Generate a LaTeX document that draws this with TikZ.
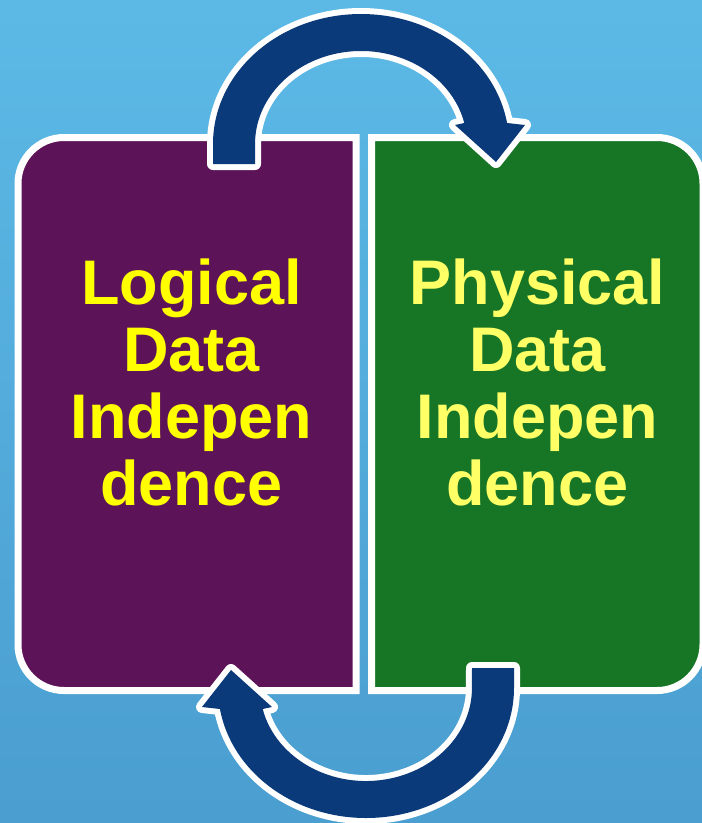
\documentclass[tikz,border=0pt]{standalone}
\usepackage{fontspec}
\setmainfont{Liberation Sans}
\definecolor{skytop}{HTML}{5CB9E6}
\definecolor{skybot}{HTML}{4A9ED0}
\definecolor{boxpurple}{HTML}{5C1358}
\definecolor{boxgreen}{HTML}{177526}
\definecolor{arrowblue}{HTML}{0A3A7A}
\definecolor{txtyellow}{HTML}{FFFF00}
\definecolor{txtpale}{HTML}{FFFF66}
\tikzset{
  panel/.style={draw=white, line width=7pt},
  panellabel/.style={font=\bfseries\fontsize{63}{66.7}\selectfont, align=center, inner sep=0pt, anchor=base},
  arrowrim/.style={draw=white, line width=12pt, line join=round},
  arrowbody/.style={fill=arrowblue}
}
\newcommand{\cyclearrowpath}{(-148,20) -- (-148,0) arc[start angle=180, end angle=350.7, x radius=148, y radius=130] -- (164,-19) -- (135,18) -- (94,-19) -- (103.3,-21) arc[start angle=346.95, end angle=180, x radius=106, y radius=93] -- (-106,20) -- cycle}
\begin{document}
\begin{tikzpicture}[x=1pt,y=-1pt]
\useasboundingbox (0,0) rectangle (702,823);
\shade[top color=skytop, bottom color=skybot] (0,0) rectangle (702,823);
% panels
\path[panel, fill=boxpurple] (356,137.5) -- (356,690.5) [rounded corners=46pt] -- (18,690.5) -- (18,137.5) [sharp corners] -- cycle;
\path[panel, fill=boxgreen] (371.5,690.5) -- (371.5,137.5) [rounded corners=46pt] -- (703,137.5) -- (703,690.5) [sharp corners] -- cycle;
\node[panellabel, text=txtyellow] (logical) at (191.5,505) {Logical\\Data\\Indepen\\dence};
\node[panellabel, text=txtpale] (physical) at (537.5,505) {Physical\\Data\\Indepen\\dence};
% top arrow
\begin{scope}[shift={(361,144)}]
  \path[arrowrim] \cyclearrowpath;
  \path[arrowbody] \cyclearrowpath;
\end{scope}
% bottom arrow
\begin{scope}[shift={(366,688)}, rotate=180]
  \path[arrowrim] \cyclearrowpath;
  \path[arrowbody] \cyclearrowpath;
\end{scope}
\end{tikzpicture}
\end{document}
